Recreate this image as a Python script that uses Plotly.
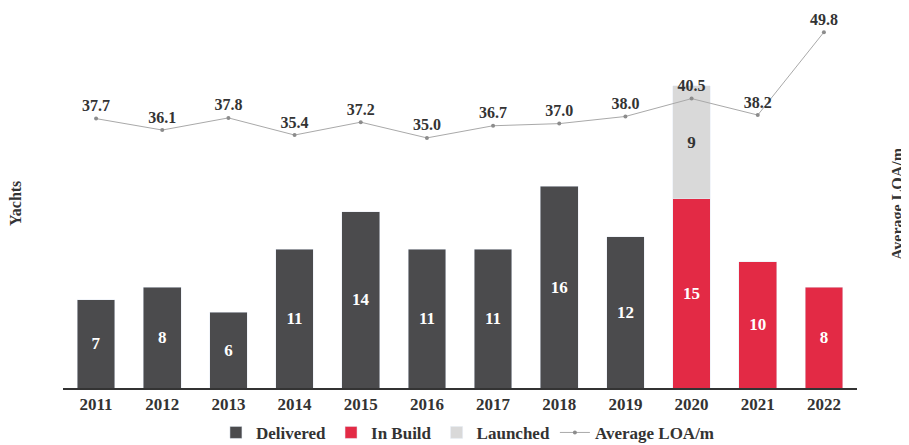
import plotly.graph_objects as go

years = ["2011", "2012", "2013", "2014", "2015", "2016", "2017", "2018", "2019", "2020", "2021", "2022"]
delivered = [7, 8, 6, 11, 14, 11, 11, 16, 12, None, None, None]
in_build = [None, None, None, None, None, None, None, None, None, 15, 10, 8]
launched = [None, None, None, None, None, None, None, None, None, 9, None, None]
avg_loa = [37.7, 36.1, 37.8, 35.4, 37.2, 35.0, 36.7, 37.0, 38.0, 40.5, 38.2, 49.8]

FONT = "Liberation Serif"
DARK = "#4b4b4d"
RED = "#e32a45"
LIGHT = "#d9d9d9"

def lbl(vals):
    return [("<b>%d</b>" % v) if v is not None else "" for v in vals]

fig = go.Figure()
fig.add_trace(go.Bar(x=years, y=delivered, name="Delivered", marker_color=DARK,
                     text=lbl(delivered), textposition="inside", insidetextanchor="middle",
                     textfont=dict(family=FONT, size=17, color="white"), textangle=0))
fig.add_trace(go.Bar(x=years, y=in_build, name="In Build", marker_color=RED,
                     text=lbl(in_build), textposition="inside", insidetextanchor="middle",
                     textfont=dict(family=FONT, size=17, color="white"), textangle=0))
fig.add_trace(go.Bar(x=years, y=launched, name="Launched", marker_color=LIGHT,
                     text=lbl(launched), textposition="inside", insidetextanchor="middle",
                     textfont=dict(family=FONT, size=17, color="#333333"), textangle=0))
fig.add_trace(go.Scatter(x=years, y=avg_loa, name="Average LOA/m", yaxis="y2",
                         mode="lines+markers+text",
                         line=dict(color="#a9a9a9", width=1),
                         marker=dict(color="#8c8c8c", size=4),
                         text=["<b>%.1f</b>" % v for v in avg_loa], textposition="top center",
                         textfont=dict(family=FONT, size=16, color="#333333"),
                         cliponaxis=False))

# the page body has an 8px margin, so the figure is sized/offset to compensate
fig.update_layout(
    width=901, height=437,
    barmode="stack", bargap=0.43,
    plot_bgcolor="white", paper_bgcolor="white",
    margin=dict(l=55, r=52, t=12, b=57, autoexpand=False),
    font=dict(family=FONT, size=16, color="#333333"),
    xaxis=dict(range=[-0.5, 11.5], showline=True, linecolor="#333333", linewidth=1.5, ticks="",
               tickfont=dict(family=FONT, size=17, color="#333333", weight="bold"),
               showgrid=False),
    yaxis=dict(range=[0, 29.2], showticklabels=False, showgrid=False, zeroline=False),
    yaxis2=dict(range=[0, 51.5], overlaying="y", side="right", showticklabels=False,
                showgrid=False, zeroline=False),
    legend=dict(orientation="h", x=0.51, xanchor="center", y=-0.122, yanchor="middle",
                traceorder="normal",
                font=dict(family=FONT, size=17, color="#333333", weight="bold"),
                itemwidth=30, tracegroupgap=0),
)
fig.layout.annotations = [
    dict(text="<b>Yachts</b>", textangle=-90, xref="paper", yref="paper",
         x=-48 / 794, y=0.5, xanchor="center", yanchor="middle", showarrow=False,
         font=dict(family=FONT, size=16, color="#333333")),
    dict(text="<b>Average LOA/m</b>", textangle=-90, xref="paper", yref="paper",
         x=1 + 41 / 794, y=0.5, xanchor="center", yanchor="middle", showarrow=False,
         font=dict(family=FONT, size=16, color="#333333")),
]
fig.write_html("out.html")
